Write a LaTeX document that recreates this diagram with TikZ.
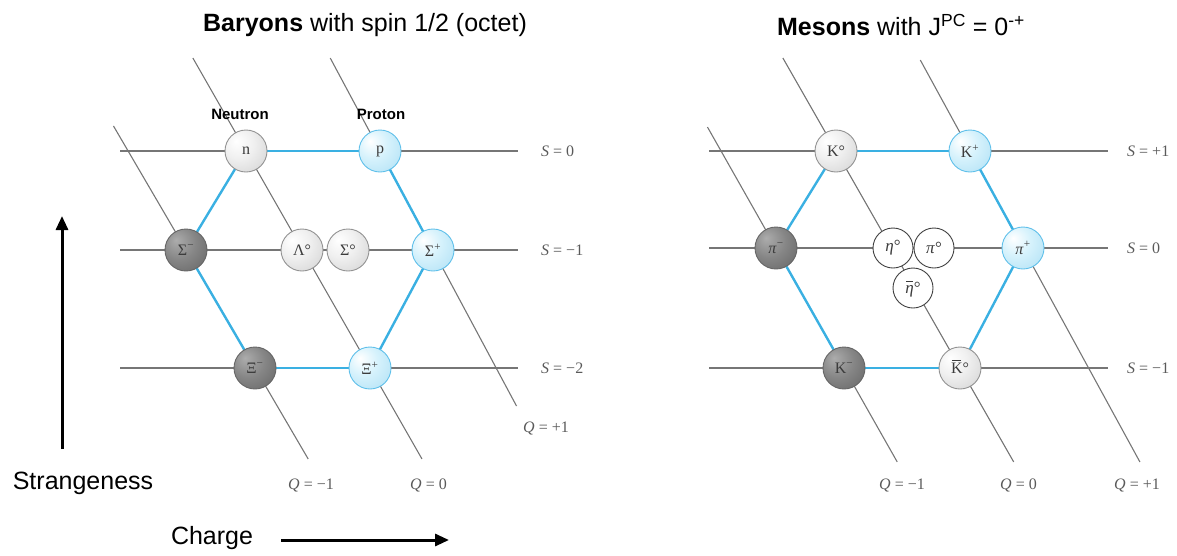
\documentclass[tikz,border=0pt]{standalone}
\usepackage{fontspec}
\setmainfont{Liberation Sans}
\newfontfamily\tms{Liberation Serif}
\usetikzlibrary{backgrounds,arrows.meta,calc}
\definecolor{hexblue}{RGB}{58,176,226}
\definecolor{qgray}{RGB}{118,118,118}
\definecolor{lbl}{RGB}{90,90,90}
\definecolor{ptxt}{RGB}{60,60,60}
\definecolor{bl1}{RGB}{214,242,252}
\definecolor{bl2}{RGB}{170,222,244}
\definecolor{bl3}{RGB}{128,204,236}
\definecolor{blout}{RGB}{96,192,234}
\pgfdeclareradialshading{sphlight}{\pgfpoint{-12bp}{12bp}}{color(0bp)=(white); color(18bp)=(gray!12); color(45bp)=(gray!38); color(70bp)=(gray!60)}
\pgfdeclareradialshading{sphdark}{\pgfpoint{-12bp}{12bp}}{color(0bp)=(gray!65); color(20bp)=(gray!95); color(45bp)=(black!62); color(70bp)=(black!72)}
\pgfdeclareradialshading{sphblue}{\pgfpoint{-12bp}{12bp}}{color(0bp)=(white); color(18bp)=(bl1); color(45bp)=(bl2); color(70bp)=(bl3)}
\newcommand\barred[3]{\ooalign{#1\cr\hidewidth\rule[#3]{#2}{0.9pt}\hidewidth}}
\begin{document}
\begin{tikzpicture}[x=1pt,y=-1pt,
  part/.style={circle,minimum size=42pt,inner sep=0pt,line width=0.9pt,
    font=\tms\fontsize{16}{16}\selectfont,text=ptxt},
  lball/.style={part,shading=sphlight,draw=gray!85},
  dball/.style={part,shading=sphdark,draw=black!60},
  bball/.style={part,shading=sphblue,draw=blout},
  wball/.style={part,minimum size=40pt,fill=white,draw=black!75,font=\tms\fontsize{17}{17}\selectfont},
  gline/.style={draw=qgray,line width=1.1pt},
  hexline/.style={draw=hexblue,line width=2.4pt},
  slbl/.style={anchor=west,inner sep=0pt,text=lbl,font=\tms\fontsize{16}{16}\selectfont},
  qlbl/.style={anchor=west,inner sep=0pt,text=lbl,font=\tms\fontsize{16}{16}\selectfont},
  ttl/.style={inner sep=0pt,font=\fontsize{25}{25}\selectfont},
  axlbl/.style={inner sep=0pt,font=\fontsize{25}{25}\selectfont},
  small/.style={inner sep=0pt,font=\bfseries\fontsize{15}{15}\selectfont},
  axarrow/.style={line width=3pt,-{Triangle[length=14pt,width=12pt]}}
]
\useasboundingbox (0,0) rectangle (1177,555);

% titles
\node[ttl] (t1) at (365,25) {\textbf{Baryons} with spin 1/2 (octet)};
\node[ttl] (t2) at (901,25) {\textbf{Mesons} with J\textsuperscript{PC} = 0\textsuperscript{-+}};

% baryon octet
\node[lball] (n)  at (246,151) {n};
\node[bball] (p)  at (380,151) {p};
\node[dball] (sm) at (186,250) {Σ\textsuperscript{−}};
\node[lball] (la) at (302,250) {Λ°};
\node[lball] (sz) at (348,250) {Σ°};
\node[bball] (sp) at (433,250) {Σ\textsuperscript{+}};
\node[dball] (xm) at (255,368) {Ξ\textsuperscript{−}};
\node[bball] (xp) at (370,368) {Ξ\textsuperscript{+}};
\node[small] (neut) at (240,114) {Neutron};
\node[small] (prot) at (381,114) {Proton};

% meson octet
\node[lball] (k0)  at (836,151) {K°};
\node[bball] (kp)  at (970,151) {K\textsuperscript{+}};
\node[dball] (pim) at (776,248) {\textit{π}\textsuperscript{−}};
\node[wball] (eta) at (893,248) {\textit{η}°};
\node[wball] (pi0) at (934,248) {\textit{π}°};
\node[wball] (etab) at (913,288) {\barred{\textit{η}}{7pt}{12pt}°};
\node[bball] (pip) at (1023,248) {\textit{π}\textsuperscript{+}};
\node[dball] (km)  at (844,368) {K\textsuperscript{−}};
\node[lball] (k0b) at (960,368) {\barred{K}{9pt}{12.5pt}°};

% S labels
\node[slbl] (ls0) at (541,151) {\textit{S} = 0};
\node[slbl] (ls1) at (541,250) {\textit{S} = −1};
\node[slbl] (ls2) at (541,368) {\textit{S} = −2};
\node[slbl] (rs0) at (1127,151) {\textit{S} = +1};
\node[slbl] (rs1) at (1127,248) {\textit{S} = 0};
\node[slbl] (rs2) at (1127,368) {\textit{S} = −1};
% Q labels
\node[qlbl] (lq1) at (288,485) {\textit{Q} = −1};
\node[qlbl] (lq2) at (410,485) {\textit{Q} = 0};
\node[qlbl] (lq3) at (523,428) {\textit{Q} = +1};
\node[qlbl] (rq1) at (879,485) {\textit{Q} = −1};
\node[qlbl] (rq2) at (1000,485) {\textit{Q} = 0};
\node[qlbl] (rq3) at (1114,485) {\textit{Q} = +1};

% axes
\node[axlbl] (strg) at (83,483) {Strangeness};
\node[axlbl] (chg) at (212,538) {Charge};
\coordinate (sa) at (62,449);
\coordinate (sb) at (62,216);
\coordinate (ca) at (281,540);
\coordinate (cb) at (449,540);
\draw[axarrow] (sa) -- (sb);
\draw[axarrow] (ca) -- (cb);

% line end points
\coordinate (lh0a) at (120,151); \coordinate (lh0b) at (518,151);
\coordinate (lh1a) at (120,250); \coordinate (lh1b) at (518,250);
\coordinate (lh2a) at (120,368); \coordinate (lh2b) at (518,368);
\coordinate (lqa1) at ($(sm.center)!-1.051!(xm.center)$); \coordinate (lqb1) at ($(sm.center)!1.771!(xm.center)$);
\coordinate (lqa2) at ($(n.center)!-0.4286!(xp.center)$); \coordinate (lqb2) at ($(n.center)!1.419!(xp.center)$);
\coordinate (lqa3) at ($(p.center)!-0.939!(sp.center)$); \coordinate (lqb3) at ($(p.center)!2.576!(sp.center)$);
\coordinate (rh0a) at (709,151); \coordinate (rh0b) at (1108,151);
\coordinate (rh1a) at (709,248); \coordinate (rh1b) at (1108,248);
\coordinate (rh2a) at (709,368); \coordinate (rh2b) at (1108,368);
\coordinate (rqa1) at ($(pim.center)!-1.008!(km.center)$); \coordinate (rqb1) at ($(pim.center)!1.783!(km.center)$);
\coordinate (rqa2) at ($(k0.center)!-0.4286!(k0b.center)$); \coordinate (rqb2) at ($(k0.center)!1.433!(k0b.center)$);
\coordinate (rqa3) at ($(kp.center)!-0.938!(pip.center)$); \coordinate (rqb3) at ($(kp.center)!3.206!(pip.center)$);

\begin{scope}[on background layer]
  \foreach \a/\b in {lh0a/lh0b,lh1a/lh1b,lh2a/lh2b,lqa1/lqb1,lqa2/lqb2,lqa3/lqb3,
                     rh0a/rh0b,rh1a/rh1b,rh2a/rh2b,rqa1/rqb1,rqa2/rqb2,rqa3/rqb3}
    \draw[gline] (\a) -- (\b);
  \foreach \a/\b in {n/p,p/sp,sp/xp,xp/xm,xm/sm,sm/n,
                     k0/kp,kp/pip,pip/k0b,k0b/km,km/pim,pim/k0}
    \draw[hexline] (\a.center) -- (\b.center);
\end{scope}
\end{tikzpicture}
\end{document}
